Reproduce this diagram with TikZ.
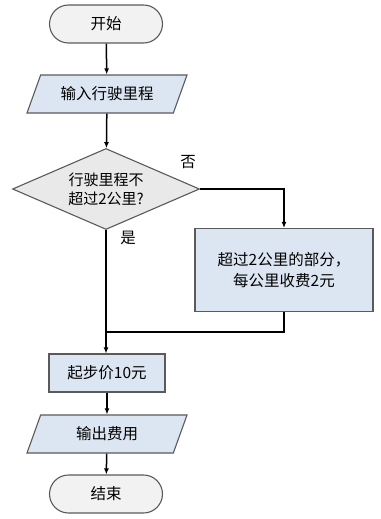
\documentclass[tikz,border=0pt]{standalone}
\usepackage{fontspec}
\setmainfont{Noto Sans CJK SC}
\usepackage{tikz}
\usetikzlibrary{arrows.meta,positioning,shapes.geometric}
\definecolor{flowgray}{HTML}{F2F2F2}
\definecolor{flowdec}{HTML}{E9E9E9}
\definecolor{flowblue}{HTML}{DCE6F2}
\definecolor{flowline}{HTML}{5A5A5A}
\tikzset{
  flow-terminal/.style={draw=flowline, fill=flowgray, rounded corners=19pt, line width=1.1pt,
    minimum width=113pt, minimum height=38pt, font=\fontsize{15.5}{17}\selectfont},
  flow-io/.style={draw=flowline, fill=flowblue, trapezium, trapezium left angle=57,
    trapezium right angle=123, trapezium stretches body, line width=1.1pt,
    minimum width=160pt, minimum height=38pt, inner xsep=2pt, font=\fontsize{15.5}{17}\selectfont},
  flow-decision/.style={draw=flowline, fill=flowdec, diamond, aspect=2.3, line width=1.1pt,
    minimum width=187pt, minimum height=81pt, inner sep=0pt, align=center,
    font=\fontsize{15}{19}\selectfont},
  flow-process/.style={draw=flowline, fill=flowblue, line width=1.1pt, align=center,
    font=\fontsize{15.5}{21}\selectfont},
  flow-arrow/.style={-{Latex[length=6pt,width=5pt]}, line width=1.5pt},
  flow-label/.style={font=\fontsize{15.5}{17}\selectfont}
}
\begin{document}
\begin{tikzpicture}[x=1pt, y=-1pt]
  \useasboundingbox (0,0) rectangle (380,519);
  \node[flow-terminal] (start) at (106,24) {开始};
  \node[flow-io] (input) at (107,94) {输入行驶里程};
  \node[flow-decision] (dec) at (106,189) {行驶里程不\\超过2公里?};
  \node[flow-process, minimum width=178pt, minimum height=83pt] (extra) at (284,270) {超过2公里的部分，\\每公里收费2元};
  \node[flow-process, minimum width=116pt, minimum height=38pt] (base) at (107,373) {起步价10元};
  \node[flow-io] (output) at (107,434) {输出费用};
  \node[flow-terminal] (stop) at (106,494) {结束};
  \coordinate (join) at (106,332);
  \draw[flow-arrow] (start) -- (input);
  \draw[flow-arrow] (input) -- (dec);
  \draw[flow-arrow] (dec.east) -| (extra.north);
  \draw[flow-arrow] (dec.south) -- (dec.south |- base.north);
  \draw[line width=1.5pt] (extra.south) |- (join);
  \draw[flow-arrow] (base) -- (output);
  \draw[flow-arrow] (output) -- (stop);
  \node[flow-label] (no) at (188,162) {否};
  \node[flow-label] (yes) at (128,238) {是};
\end{tikzpicture}
\end{document}
